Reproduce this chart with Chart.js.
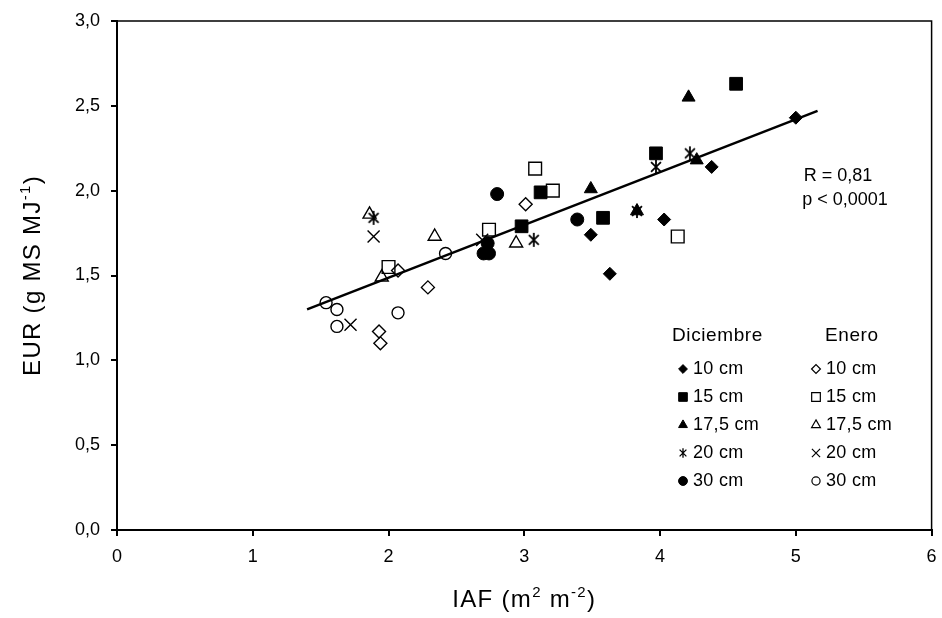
<!DOCTYPE html>
<html>
<head>
<meta charset="utf-8">
<script src="https://cdn.jsdelivr.net/npm/chart.js@4.4.1/dist/chart.umd.min.js"></script>
<style>
  html, body { margin: 0; padding: 0; background: #fff; }
  #wrap { width: 942px; height: 618px; }
</style>
</head>
<body>
<div id="wrap"><canvas id="eurChart" width="942" height="618"></canvas></div>
<script>
// Diciembre (filled markers)
const DIC_10_X = [3.49, 3.63, 4.03, 4.38, 5.00];
const DIC_10_Y = [1.74, 1.51, 1.83, 2.14, 2.43];
const DIC_15_X = [2.98, 3.12, 3.58, 3.97, 4.56];
const DIC_15_Y = [1.79, 1.99, 1.84, 2.22, 2.63];
const DIC_175_X = [3.49, 3.83, 4.21, 4.27];
const DIC_175_Y = [2.01, 1.88, 2.55, 2.18];
const DIC_20_X = [1.89, 3.07, 3.83, 3.97, 4.22];
const DIC_20_Y = [1.84, 1.71, 1.88, 2.14, 2.22];
const DIC_30_X = [2.70, 2.74, 2.73, 2.80, 3.39];
const DIC_30_Y = [1.63, 1.63, 1.69, 1.98, 1.83];

// Enero (open markers)
const ENE_10_X = [1.93, 1.94, 2.07, 2.29, 3.01];
const ENE_10_Y = [1.17, 1.10, 1.53, 1.43, 1.92];
const ENE_15_X = [2.00, 2.74, 3.08, 3.21, 4.13];
const ENE_15_Y = [1.55, 1.77, 2.13, 2.00, 1.73];
const ENE_175_X = [1.86, 1.95, 2.34, 2.94];
const ENE_175_Y = [1.86, 1.49, 1.73, 1.69];
const ENE_20_X = [1.72, 1.89, 2.69];
const ENE_20_Y = [1.21, 1.73, 1.71];
const ENE_30_X = [1.54, 1.62, 1.62, 2.07, 2.42];
const ENE_30_Y = [1.34, 1.30, 1.20, 1.28, 1.63];

// regression line end points
const TREND_X = [1.40, 5.16];
const TREND_Y = [1.30, 2.47];

const X_TICKS = ['0', '1', '2', '3', '4', '5', '6'];
const Y_TICKS = ['0,0', '0,5', '1,0', '1,5', '2,0', '2,5', '3,0'];
const SIZES = ['10 cm', '15 cm', '17,5 cm', '20 cm', '30 cm'];

const FONT = '"Liberation Sans", Arial, sans-serif';

function pts(xs, ys) {
  return xs.map((x, i) => ({ x: x, y: ys[i] }));
}

// 6-ray asterisk used for "20 cm" Diciembre
function makeAsterisk(size, arm, lw) {
  const c = document.createElement('canvas');
  c.width = c.height = size;
  const g = c.getContext('2d');
  const m = size / 2;
  const d = arm * Math.SQRT1_2;
  g.strokeStyle = '#000';
  g.lineWidth = lw;
  g.beginPath();
  g.moveTo(m - d, m - d); g.lineTo(m + d, m + d);
  g.moveTo(m + d, m - d); g.lineTo(m - d, m + d);
  g.moveTo(m, m - arm); g.lineTo(m, m + arm);
  g.stroke();
  return c;
}
const asterisk = makeAsterisk(20, 7, 1.8);
const asteriskSmall = makeAsterisk(12, 4.8, 1.3);

// marker styles, same order as SIZES
const dicStyles = [
  { pointStyle: 'rectRot', radius: 6.5 },
  { pointStyle: 'rect', radius: 9 },
  { pointStyle: 'triangle', radius: 7.5 },
  { pointStyle: asterisk, radius: 7 },
  { pointStyle: 'circle', radius: 6.5 }
];
const eneStyles = [
  { pointStyle: 'rectRot', radius: 6.5 },
  { pointStyle: 'rect', radius: 9 },
  { pointStyle: 'triangle', radius: 7.5 },
  { pointStyle: 'crossRot', radius: 8.5 },
  { pointStyle: 'circle', radius: 6 }
];

const dicData = [
  pts(DIC_10_X, DIC_10_Y), pts(DIC_15_X, DIC_15_Y), pts(DIC_175_X, DIC_175_Y),
  pts(DIC_20_X, DIC_20_Y), pts(DIC_30_X, DIC_30_Y)
];
const eneData = [
  pts(ENE_10_X, ENE_10_Y), pts(ENE_15_X, ENE_15_Y), pts(ENE_175_X, ENE_175_Y),
  pts(ENE_20_X, ENE_20_Y), pts(ENE_30_X, ENE_30_Y)
];

const datasets = [];
SIZES.forEach((s, i) => {
  datasets.push({
    label: 'Diciembre ' + s,
    data: dicData[i],
    pointStyle: dicStyles[i].pointStyle,
    pointRadius: dicStyles[i].radius,
    backgroundColor: '#000',
    borderColor: '#000',
    borderWidth: 1
  });
});
SIZES.forEach((s, i) => {
  datasets.push({
    label: 'Enero ' + s,
    data: eneData[i],
    pointStyle: eneStyles[i].pointStyle,
    pointRadius: eneStyles[i].radius,
    backgroundColor: 'rgba(0,0,0,0)',
    borderColor: '#000',
    borderWidth: 1.4
  });
});
datasets.push({
  type: 'line',
  label: 'Regresión',
  data: pts(TREND_X, TREND_Y),
  borderColor: '#000',
  borderWidth: 2.5,
  pointRadius: 0,
  fill: false,
  order: 1
});

// text with superscripts, drawn centred at (x, y)
function drawRich(ctx, parts, x, y, size) {
  const supSize = Math.round(size * 0.62);
  ctx.letterSpacing = '1.3px';
  let total = 0;
  parts.forEach(p => {
    ctx.font = (p.sup ? supSize : size) + 'px ' + FONT;
    p.w = ctx.measureText(p.t).width;
    total += p.w;
  });
  let cx = x - total / 2;
  ctx.textAlign = 'left';
  ctx.textBaseline = 'alphabetic';
  parts.forEach(p => {
    ctx.font = (p.sup ? supSize : size) + 'px ' + FONT;
    ctx.fillText(p.t, cx, p.sup ? y - size * 0.42 : y);
    cx += p.w;
  });
  ctx.letterSpacing = '0px';
}

const decorations = {
  id: 'decorations',
  afterDraw(chart) {
    const ctx = chart.ctx;
    const a = chart.chartArea;
    ctx.save();
    ctx.fillStyle = '#000';
    ctx.strokeStyle = '#000';

    // frame top/right
    ctx.lineWidth = 1.5;
    ctx.beginPath();
    ctx.moveTo(a.left, a.top);
    ctx.lineTo(a.right, a.top);
    ctx.lineTo(a.right, a.bottom);
    ctx.stroke();

    // axis titles
    drawRich(ctx, [{ t: 'IAF (m' }, { t: '2', sup: true }, { t: ' m' }, { t: '-2', sup: true }, { t: ')' }],
      (a.left + a.right) / 2, 607, 24);
    ctx.save();
    ctx.translate(40, (a.top + a.bottom) / 2);
    ctx.rotate(-Math.PI / 2);
    drawRich(ctx, [{ t: 'EUR (g MS MJ' }, { t: '-1', sup: true }, { t: ')' }], 0, 0, 24);
    ctx.restore();

    // statistics
    ctx.font = '18px ' + FONT;
    ctx.textAlign = 'center';
    ctx.textBaseline = 'middle';
    ctx.fillText('R = 0,81', 838, 176);
    ctx.fillText('p < 0,0001', 845, 200);

    // legend
    ctx.font = '19px ' + FONT;
    ctx.textAlign = 'left';
    ctx.letterSpacing = '0.6px';
    ctx.fillText('Diciembre', 672, 336);
    ctx.fillText('Enero', 825, 336);
    ctx.font = '18px ' + FONT;
    ctx.letterSpacing = '0.3px';
    SIZES.forEach((s, i) => {
      const y = 369 + i * 28;
      [[683, dicStyles[i], '#000', 1], [816, eneStyles[i], 'rgba(0,0,0,0)', 1.2]].forEach(([x, st, fill, bw]) => {
        ctx.fillStyle = fill;
        ctx.strokeStyle = '#000';
        ctx.lineWidth = bw;
        if (typeof st.pointStyle === 'string') {
          Chart.helpers.drawPoint(ctx, {
            pointStyle: st.pointStyle,
            radius: st.radius * 0.68,
            rotation: 0,
            borderWidth: bw
          }, x, y);
        } else {
          ctx.drawImage(asteriskSmall, x - 6, y - 6);
        }
      });
      ctx.fillStyle = '#000';
      ctx.fillText(s, 693, y);
      ctx.fillText(s, 826, y);
    });
    ctx.restore();
  }
};

Chart.defaults.font.family = FONT;
Chart.defaults.font.size = 18;
Chart.defaults.color = '#000';

new Chart(document.getElementById('eurChart').getContext('2d'), {
  type: 'scatter',
  data: { datasets: datasets },
  options: {
    responsive: false,
    animation: false,
    devicePixelRatio: 1,
    layout: { padding: { top: 21, right: 5, left: 0, bottom: 0 } },
    plugins: {
      legend: { display: false },
      tooltip: { enabled: false }
    },
    scales: {
      x: {
        type: 'linear',
        min: 0,
        max: 6,
        afterFit: (s) => { s.height = 88; s.paddingLeft = 0; s.paddingRight = 0; },
        border: { display: true, color: '#000', width: 2 },
        grid: { drawOnChartArea: false, drawTicks: true, tickLength: 6, color: '#000', lineWidth: 2 },
        ticks: {
          stepSize: 1,
          padding: 10,
          maxRotation: 0,
          callback: (v, i) => X_TICKS[i]
        }
      },
      y: {
        type: 'linear',
        min: 0,
        max: 3,
        afterFit: (s) => { s.width = 117; s.paddingTop = 0; s.paddingBottom = 0; },
        border: { display: true, color: '#000', width: 2 },
        grid: { drawOnChartArea: false, drawTicks: true, tickLength: 6, color: '#000', lineWidth: 2 },
        ticks: {
          stepSize: 0.5,
          padding: 11,
          callback: (v, i) => Y_TICKS[i]
        }
      }
    }
  },
  plugins: [decorations]
});
</script>
</body>
</html>
